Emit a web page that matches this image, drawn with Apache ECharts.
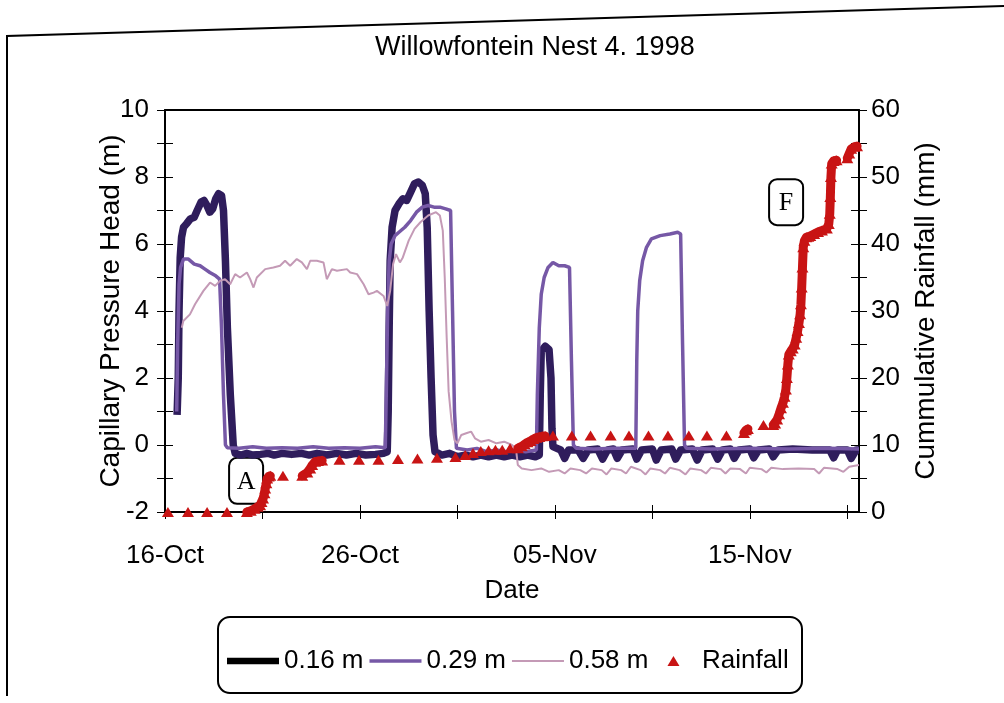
<!DOCTYPE html>
<html><head><meta charset="utf-8">
<script src="https://cdn.jsdelivr.net/npm/echarts/dist/echarts.min.js"></script>
<style>html,body{margin:0;padding:0;background:#fff}#c{width:1004px;height:703px}</style>
</head><body><div id="c"></div>
<script>
// ---------- data (x = days since 16-Oct-1998) ----------
const chartTitle = 'Willowfontein Nest 4. 1998';
const startDate = [1998, 9, 16];
const monthNames = ['Jan','Feb','Mar','Apr','May','Jun','Jul','Aug','Sep','Oct','Nov','Dec'];
const xLabelDays = [0, 10, 20, 30];
const seriesNames = ['0.16 m', '0.29 m', '0.58 m', 'Rainfall'];

const head016 = [[0.62,0.9],[0.68,2.0],[0.72,4.0],[0.78,5.6],[0.85,6.2],[0.95,6.5],[1.1,6.6],[1.3,6.75],[1.5,6.8],[1.65,7.0],[1.85,7.25],[2.0,7.3],[2.15,7.15],[2.3,6.95],[2.45,7.05],[2.6,7.35],[2.75,7.5],[2.9,7.45],[3.0,7.0],[3.1,5.5],[3.2,3.5],[3.35,1.5],[3.5,0.0],[3.6,-0.25],[3.9,-0.3],[4.2,-0.25],[4.5,-0.3],[4.9,-0.28],[5.3,-0.25],[5.6,-0.3],[6.0,-0.25],[6.5,-0.28],[7.0,-0.25],[7.4,-0.3],[7.8,-0.25],[8.3,-0.3],[8.8,-0.25],[9.3,-0.3],[9.8,-0.25],[10.3,-0.3],[10.8,-0.28],[11.2,-0.25],[11.4,-0.2],[11.45,1.0],[11.5,3.5],[11.55,5.5],[11.65,6.5],[11.8,7.0],[12.0,7.2],[12.2,7.35],[12.4,7.3],[12.6,7.55],[12.8,7.8],[13.0,7.85],[13.2,7.75],[13.35,7.5],[13.45,6.5],[13.55,4.0],[13.65,2.0],[13.75,0.3],[13.85,-0.2],[14.2,-0.3],[14.6,-0.25],[15.0,-0.35],[15.4,-0.3],[15.8,-0.35],[16.2,-0.3],[16.6,-0.35],[17.0,-0.3],[17.4,-0.35],[17.8,-0.3],[18.2,-0.35],[18.6,-0.3],[19.0,-0.35],[19.2,-0.3],[19.25,1.5],[19.3,2.8],[19.5,2.95],[19.7,2.85],[19.8,2.0],[19.85,0.5],[19.9,-0.05],[20.0,-0.1],[20.3,-0.15],[20.5,-0.4],[20.7,-0.15],[21.2,-0.15],[21.45,-0.4],[21.7,-0.15],[22.2,-0.12],[22.45,-0.42],[22.7,-0.15],[23.0,-0.12],[23.2,-0.4],[23.45,-0.15],[24.0,-0.12],[24.2,-0.42],[24.45,-0.15],[25.0,-0.12],[25.2,-0.45],[25.45,-0.15],[26.0,-0.12],[26.2,-0.42],[26.45,-0.15],[27.05,-0.12],[27.3,-0.45],[27.55,-0.15],[28.1,-0.12],[28.35,-0.42],[28.6,-0.15],[29.0,-0.12],[29.2,-0.4],[29.45,-0.15],[30.0,-0.12],[30.2,-0.38],[30.45,-0.15],[31.0,-0.12],[31.2,-0.35],[31.45,-0.15],[32.2,-0.12],[33.2,-0.15],[34.1,-0.15],[34.3,-0.38],[34.5,-0.15],[35.0,-0.15],[35.2,-0.4],[35.45,-0.15],[35.6,-0.15]];

const head029 = [[0.6,1.0],[0.65,3.0],[0.72,4.8],[0.8,5.3],[0.95,5.55],[1.2,5.55],[1.5,5.4],[1.8,5.35],[2.05,5.25],[2.3,5.15],[2.6,5.05],[2.8,4.95],[2.9,3.5],[3.0,1.5],[3.1,0.0],[3.2,-0.08],[3.8,-0.1],[4.5,-0.05],[5.2,-0.1],[6.0,-0.08],[6.8,-0.1],[7.6,-0.05],[8.4,-0.1],[9.2,-0.08],[10.0,-0.1],[10.8,-0.05],[11.3,-0.08],[11.35,1.5],[11.42,4.0],[11.5,5.5],[11.6,6.0],[11.8,6.25],[12.0,6.35],[12.3,6.5],[12.6,6.7],[12.9,6.95],[13.2,7.1],[13.5,7.15],[13.8,7.1],[14.1,7.1],[14.4,7.05],[14.65,7.0],[14.75,4.0],[14.85,1.0],[14.95,-0.1],[15.5,-0.15],[16.0,-0.1],[16.5,-0.2],[17.0,-0.15],[17.5,-0.2],[18.0,-0.15],[18.5,-0.2],[19.05,-0.15],[19.1,1.5],[19.2,3.5],[19.3,4.5],[19.45,5.0],[19.65,5.3],[19.9,5.45],[20.2,5.35],[20.5,5.35],[20.75,5.3],[20.85,2.5],[20.95,0.0],[21.1,-0.1],[22.0,-0.12],[23.0,-0.1],[24.15,-0.1],[24.2,2.5],[24.25,4.0],[24.35,4.9],[24.5,5.5],[24.7,5.9],[24.95,6.15],[25.4,6.25],[25.9,6.3],[26.3,6.35],[26.45,6.3],[26.55,3.0],[26.65,0.0],[26.75,-0.1],[28.0,-0.12],[30.0,-0.1],[32.0,-0.12],[34.0,-0.1],[35.6,-0.12]];

const head058 = [[0.86,3.5],[0.94,3.7],[1.28,3.9],[1.54,4.2],[1.97,4.6],[2.31,4.85],[2.57,4.75],[2.82,4.9],[3.08,4.95],[3.34,4.8],[3.6,5.1],[3.85,5.0],[4.2,5.15],[4.37,4.95],[4.54,4.7],[4.71,5.0],[5.14,5.25],[5.56,5.3],[5.9,5.35],[6.16,5.5],[6.42,5.35],[6.76,5.55],[7.02,5.45],[7.28,5.25],[7.45,5.5],[7.79,5.5],[8.13,5.45],[8.3,4.95],[8.56,5.25],[8.82,5.2],[9.33,5.25],[9.5,5.15],[9.85,5.1],[10.19,4.8],[10.44,4.5],[10.7,4.55],[10.87,4.6],[11.21,4.45],[11.4,4.15],[11.55,4.6],[11.7,5.4],[11.85,5.7],[12.05,5.45],[12.2,5.6],[12.5,6.1],[12.8,6.45],[13.1,6.65],[13.5,6.85],[13.9,6.95],[14.1,6.85],[14.25,6.4],[14.35,5.0],[14.45,3.2],[14.55,1.6],[14.7,0.7],[14.85,0.15],[15.0,0.05],[15.2,0.3],[15.45,0.35],[15.7,0.4],[15.9,0.2],[16.2,0.1],[16.6,0.15],[17.0,0.05],[17.4,0.1],[17.8,0.0],[18.0,-0.1],[18.1,-0.6],[18.3,-0.7],[18.8,-0.75],[19.3,-0.7],[19.7,-0.8],[20.2,-0.75],[20.5,-0.85],[20.8,-0.7],[21.3,-0.75],[21.6,-0.85],[21.9,-0.7],[22.4,-0.75],[22.65,-0.88],[22.9,-0.7],[23.4,-0.75],[23.65,-0.85],[23.9,-0.65],[24.4,-0.75],[24.65,-0.88],[24.9,-0.7],[25.4,-0.75],[25.65,-0.85],[25.9,-0.68],[26.4,-0.75],[26.7,-0.88],[26.95,-0.7],[27.5,-0.75],[27.75,-0.85],[28.0,-0.68],[28.5,-0.72],[28.75,-0.85],[29.0,-0.7],[29.5,-0.72],[29.8,-0.85],[30.0,-0.68],[30.6,-0.72],[30.85,-0.82],[31.1,-0.68],[31.7,-0.72],[32.5,-0.7],[33.3,-0.72],[33.55,-0.85],[33.8,-0.68],[34.5,-0.72],[34.8,-0.8],[35.1,-0.65],[35.6,-0.6]];

const rainfall = [[0.15,0],[1.18,0],[2.16,0],[3.18,0],[4.2,0],[4.4,0.2],[4.6,0.5],[4.75,0.8],[4.88,1.0],[4.95,1.5],[5.03,2.0],[5.1,2.8],[5.14,3.5],[5.2,4.3],[5.24,5.0],[5.32,5.3],[5.4,5.4],[6.05,5.4],[7.04,5.4],[7.3,5.9],[7.45,6.5],[7.55,7.0],[7.7,7.5],[7.85,7.6],[8.06,7.7],[8.95,7.8],[9.95,7.8],[10.95,7.8],[11.95,7.9],[12.95,8.0],[13.95,8.1],[14.9,8.2],[15.4,8.5],[15.8,8.8],[16.2,9.1],[16.6,9.2],[16.95,9.3],[17.3,9.3],[17.7,9.5],[18.1,9.5],[18.3,9.8],[18.45,10.1],[18.6,10.4],[18.75,10.6],[18.9,10.9],[19.05,11.1],[19.2,11.2],[19.35,11.3],[19.5,11.35],[19.9,11.4],[20.87,11.4],[21.83,11.4],[22.86,11.4],[23.8,11.4],[24.8,11.4],[25.8,11.4],[26.87,11.4],[27.8,11.4],[28.8,11.4],[29.7,11.8],[29.8,12.2],[29.9,12.4],[30.7,13.0],[31.2,13.0],[31.3,13.2],[31.4,13.8],[31.5,14.6],[31.6,15.5],[31.7,16.3],[31.78,17.2],[31.85,18.3],[31.9,20.0],[31.95,22.0],[32.0,23.5],[32.1,24.0],[32.2,24.4],[32.3,25.0],[32.38,26.0],[32.45,27.0],[32.52,28.2],[32.58,29.5],[32.62,31.0],[32.66,33.5],[32.7,36.5],[32.74,39.5],[32.8,40.5],[32.9,41.0],[33.0,41.1],[33.1,41.2],[33.3,41.5],[33.5,41.8],[33.7,42.0],[33.95,42.3],[34.05,43.0],[34.1,44.5],[34.13,47.0],[34.16,50.0],[34.2,52.0],[34.3,52.4],[34.45,52.5],[35.0,52.8],[35.1,53.5],[35.2,54.2],[35.35,54.5],[35.5,54.6]];

const annotations = [{label:'A', day:4.16, value:-1.07}, {label:'F', day:31.86, value:7.25}];

// ---------- chart ----------
const FONT = '"Liberation Sans", Arial, sans-serif';
const colors = {c016:'#2f1d5c', c029:'#7658a6', c058:'#c49ab6', rain:'#c81414'};

function dateLabel(v){
  if (Math.abs(v - Math.round(v)) > 1e-6) return '';
  const r = Math.round(v);
  if (xLabelDays.indexOf(r) < 0) return '';
  const d = new Date(Date.UTC(startDate[0], startDate[1], startDate[2] + r));
  return String(d.getUTCDate()).padStart(2,'0') + '-' + monthNames[d.getUTCMonth()];
}

// thick band where rainfall samples are close together
const rainBand = [];
rainfall.forEach((p, i) => {
  if (i > 0 && p[0] - rainfall[i-1][0] > 0.3) rainBand.push(null);
  rainBand.push(p);
});

const xBase = {type:'value', min:0, max:35.6, interval:5, axisLine:{onZero:false}, splitLine:{show:false}};
const chart = echarts.init(document.getElementById('c'), null, {renderer:'canvas'});
chart.setOption({
  animation:false,
  backgroundColor:'#fff',
  title:{text:chartTitle, left:370, top:29, textStyle:{fontFamily:FONT, fontSize:27, fontWeight:'normal', color:'#000'}},
  grid:{left:165, right:145, top:110, bottom:191, outerBoundsMode:'none', containLabel:false},
  legend:{
    left:222, top:643, itemWidth:52, itemHeight:10, itemGap:6, symbolKeepAspect:true,
    textStyle:{fontFamily:FONT, fontSize:26, color:'#000'},
    data:[
      {name:seriesNames[0], icon:'path://M0,0h55v7h-55z', itemStyle:{color:'#000', borderWidth:0}},
      {name:seriesNames[1], icon:'path://M0,0h52v3.5h-52z', itemStyle:{color:colors.c029, borderWidth:0}},
      {name:seriesNames[2], icon:'path://M0,0h52v2h-52z', itemStyle:{color:colors.c058, borderWidth:0}},
      {name:seriesNames[3], icon:'path://M0,10L0,10M19,0L25,10L13,10Z', itemStyle:{color:colors.rain, borderWidth:0},
        textStyle:{padding:[0,0,0,4]}}
    ]
  },
  xAxis:[
    Object.assign({}, xBase, {position:'bottom', name:'Date', nameLocation:'middle', nameGap:66, nameMoveOverlap:false,
      nameTextStyle:{fontFamily:FONT, fontSize:26, color:'#000'},
      axisLine:{onZero:false, lineStyle:{color:'#000', width:2}},
      axisTick:{show:true, inside:false, length:7, lineStyle:{color:'#000'}},
      axisLabel:{formatter:dateLabel, fontFamily:FONT, fontSize:26, color:'#000', margin:31, showMaxLabel:false}}),
    Object.assign({}, xBase, {position:'bottom', axisLine:{show:false, onZero:false},
      axisTick:{show:true, inside:true, length:7, lineStyle:{color:'#000'}}, axisLabel:{show:false}}),
    Object.assign({}, xBase, {position:'top', axisLine:{show:true, onZero:false, lineStyle:{color:'#000', width:2}},
      axisTick:{show:false}, axisLabel:{show:false}})
  ],
  yAxis:[
    {type:'value', position:'left', min:-2, max:10, interval:1,
      name:'Capillary Pressure Head (m)', nameLocation:'middle', nameGap:40, nameRotate:90, nameMoveOverlap:false,
      nameTextStyle:{fontFamily:FONT, fontSize:28, color:'#000'},
      axisLine:{show:true, onZero:false, lineStyle:{color:'#000', width:2}},
      axisTick:{show:true, inside:false, length:8, lineStyle:{color:'#000'}},
      axisLabel:{formatter:v => (Math.round(v) % 2 === 0 ? String(v) : ''), fontFamily:FONT, fontSize:26, color:'#000', margin:16},
      splitLine:{show:false}},
    {type:'value', position:'right', min:0, max:60, interval:5,
      name:'Cummulative Rainfall (mm)', nameLocation:'middle', nameGap:53, nameRotate:90, nameMoveOverlap:false,
      nameTextStyle:{fontFamily:FONT, fontSize:28, color:'#000'},
      axisLine:{show:true, onZero:false, lineStyle:{color:'#000', width:2}},
      axisTick:{show:true, inside:false, length:8, lineStyle:{color:'#000'}},
      axisLabel:{formatter:v => (Math.round(v) % 10 === 0 ? String(v) : ''), fontFamily:FONT, fontSize:26, color:'#000', margin:12},
      splitLine:{show:false}},
    {type:'value', position:'left', min:-2, max:10, interval:1, axisLine:{show:false, onZero:false},
      axisTick:{show:true, inside:true, length:8, lineStyle:{color:'#000'}}, axisLabel:{show:false}, splitLine:{show:false}},
    {type:'value', position:'right', min:0, max:60, interval:5, axisLine:{show:false, onZero:false},
      axisTick:{show:true, inside:true, length:8, lineStyle:{color:'#000'}}, axisLabel:{show:false}, splitLine:{show:false}}
  ],
  series:[
    {name:seriesNames[0], type:'line', data:head016, symbol:'none', yAxisIndex:0,
      lineStyle:{color:colors.c016, width:7.5, join:'round'}, itemStyle:{color:colors.c016}, z:2},
    {name:seriesNames[1], type:'line', data:head029, symbol:'none', yAxisIndex:0,
      lineStyle:{color:colors.c029, width:3.5}, itemStyle:{color:colors.c029}, z:3},
    {name:seriesNames[2], type:'line', data:head058, symbol:'none', yAxisIndex:0,
      lineStyle:{color:colors.c058, width:2}, itemStyle:{color:colors.c058}, z:4},
    {name:'rainBand', type:'line', data:rainBand, symbol:'none', yAxisIndex:1, connectNulls:false,
      lineStyle:{color:colors.rain, width:9, cap:'round', join:'round'}, z:5, legendHoverLink:false},
    {name:seriesNames[3], type:'scatter', data:rainfall, yAxisIndex:1, symbol:'triangle', symbolSize:[12,10],
      itemStyle:{color:colors.rain, opacity:1}, z:6}
  ]
});

// decorations: frame, legend box, annotation boxes (positioned through the axes)
const g = [
  {type:'polyline', shape:{points:[[7,696],[7,36],[1004,6]]}, style:{stroke:'#000', lineWidth:2, fill:null}, silent:true},
  {type:'rect', shape:{x:218, y:617, width:584, height:76, r:12}, style:{stroke:'#000', lineWidth:2, fill:null}, silent:true, z:-1}
];
annotations.forEach(a => {
  const p = chart.convertToPixel({xAxisIndex:0, yAxisIndex:0}, [a.day, a.value]);
  g.push({type:'group', x:p[0], y:p[1], z:100, children:[
    {type:'rect', shape:{x:-17, y:-23, width:34, height:46, r:8}, style:{stroke:'#000', lineWidth:2, fill:'#fff'}},
    {type:'text', style:{text:a.label, x:0, y:1, align:'center', verticalAlign:'middle', font:'26px "Liberation Serif", "Times New Roman", serif', fill:'#000'}}
  ]});
});
chart.setOption({graphic:g});
</script></body></html>
